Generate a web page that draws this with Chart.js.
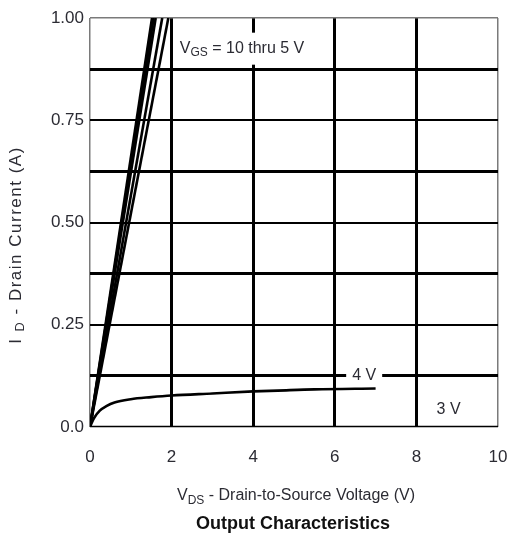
<!DOCTYPE html>
<html>
<head>
<meta charset="utf-8">
<script src="https://cdn.jsdelivr.net/npm/chart.js@4.4.0/dist/chart.umd.min.js"></script>
<style>
  html, body { margin: 0; padding: 0; background: #fff; }
  #wrap { width: 509px; height: 543px; }
</style>
</head>
<body>
<div id="wrap"><canvas id="chart" width="509" height="543"></canvas></div>
<script>
// Output characteristics: drain current vs drain-to-source voltage
const xTicks = [0, 2, 4, 6, 8, 10];
const yTickLabels = { 0: '0.0', 0.25: '0.25', 0.5: '0.50', 0.75: '0.75', 1: '1.00' };

// VGS = 10 thru 5 V, nearly linear region (VDS where ID reaches 1.0 A)
const vds10 = [0, 1.52];
const vds9 = [0, 1.56];
const vds8 = [0, 1.61];
const vds6 = [0, 1.77];
const vds5 = [0, 1.92];
const idHigh = [0, 1.0];

// VGS = 4 V
const vds4 = [0, 0.05, 0.1, 0.24, 0.4, 0.6, 1.0, 1.5, 2.0, 3.0, 4.0, 4.6, 5.5, 7.0];
const id4 = [0, 0.012, 0.022, 0.040, 0.051, 0.060, 0.068, 0.073, 0.077, 0.082, 0.087, 0.089, 0.092, 0.094];

// VGS = 3 V
const vds3 = [0, 10];
const id3 = [0, 0];

const FONT = '"Liberation Sans", Arial, sans-serif';
const TEXT = '#2b2b33';

function pts(xs, ys) {
    return xs.map((x, i) => ({ x: x, y: ys[i] }));
}

function curve(xs, ys) {
    return {
        data: pts(xs, ys),
        showLine: true,
        borderColor: '#000',
        borderWidth: 2.6,
        pointRadius: 0,
        cubicInterpolationMode: 'monotone',
        fill: false
    };
}

// Draws text runs where some parts are subscripts
function drawRich(ctx, parts, x, y, size, align) {
    ctx.save();
    ctx.textBaseline = 'middle';
    ctx.textAlign = 'left';
    let total = 0;
    parts.forEach(p => {
        ctx.font = (p.sub ? size * 0.75 : size) + 'px ' + FONT;
        total += ctx.measureText(p.t).width;
    });
    let cx = align === 'center' ? x - total / 2 : x;
    parts.forEach(p => {
        ctx.font = (p.sub ? size * 0.75 : size) + 'px ' + FONT;
        ctx.fillText(p.t, cx, p.sub ? y + size * 0.28 : y);
        cx += ctx.measureText(p.t).width;
    });
    ctx.restore();
    return total;
}

const labelPlugin = {
    id: 'curveLabels',
    afterDatasetsDraw(chart) {
        const ctx = chart.ctx;
        const xs = chart.scales.x;
        const ys = chart.scales.y;
        ctx.fillStyle = TEXT;

        const notes = [
            { parts: [{ t: 'V' }, { t: 'GS', sub: true }, { t: ' = 10 thru 5 V' }], x: 2.2, y: 0.925, boxX: 2.1, boxW: 138, boxH: 32 },
            { parts: [{ t: '4 V' }], x: 6.72, y: 0.125, center: true, boxW: 36, boxH: 16 },
            { parts: [{ t: '3 V' }], x: 8.79, y: 0.042, center: true }
        ];
        notes.forEach(n => {
            const px = xs.getPixelForValue(n.x);
            const py = ys.getPixelForValue(n.y);
            if (n.boxW) {
                ctx.save();
                ctx.fillStyle = '#fff';
                const bx = n.center ? px - n.boxW / 2 : xs.getPixelForValue(n.boxX);
                ctx.fillRect(bx, py - n.boxH / 2, n.boxW, n.boxH);
                ctx.restore();
            }
            ctx.fillStyle = TEXT;
            drawRich(ctx, n.parts, px, py, 16, n.center ? 'center' : 'left');
        });
    },
    afterDraw(chart) {
        const ctx = chart.ctx;
        ctx.fillStyle = TEXT;
        drawRich(ctx, [{ t: 'V' }, { t: 'DS', sub: true }, { t: ' - Drain-to-Source Voltage (V)' }], 296, 496, 16, 'center');

        ctx.save();
        ctx.font = 'bold 18px ' + FONT;
        ctx.fillStyle = '#111';
        ctx.textAlign = 'center';
        ctx.textBaseline = 'middle';
        ctx.fillText('Output Characteristics', 293, 524);
        ctx.restore();

        ctx.save();
        ctx.translate(16, 245);
        ctx.rotate(-Math.PI / 2);
        ctx.fillStyle = TEXT;
        ctx.letterSpacing = '1.5px';
        drawRich(ctx, [{ t: 'I ' }, { t: 'D', sub: true }, { t: ' - Drain Current (A)' }], 0, 0, 17, 'center');
        ctx.restore();
    }
};

new Chart(document.getElementById('chart'), {
    type: 'scatter',
    data: {
        datasets: [
            curve(vds10, idHigh),
            curve(vds9, idHigh),
            curve(vds8, idHigh),
            curve(vds6, idHigh),
            curve(vds5, idHigh),
            curve(vds4, id4),
            curve(vds3, id3)
        ]
    },
    options: {
        responsive: false,
        animation: false,
        layout: { padding: { left: 0, right: 0, top: 18, bottom: 0 } },
        plugins: {
            legend: { display: false },
            tooltip: { enabled: false }
        },
        scales: {
            x: {
                type: 'linear',
                min: 0,
                max: 10,
                afterFit: s => {
                    s.height = 116;
                    s.paddingLeft = 0;
                    s.paddingRight = 11;
                },
                afterBuildTicks: s => { s.ticks = xTicks.map(v => ({ value: v })); },
                border: { display: false },
                grid: {
                    drawTicks: false,
                    color: c => (c.tick.value === 0 || c.tick.value === 10) ? '#7a7a7a' : '#000',
                    lineWidth: c => (c.tick.value === 0 || c.tick.value === 10) ? 1.5 : 3
                },
                ticks: {
                    padding: 20,
                    color: TEXT,
                    font: { family: FONT, size: 17 },
                    maxRotation: 0
                }
            },
            y: {
                type: 'linear',
                min: 0,
                max: 1,
                afterFit: s => { s.width = 90; },
                border: { display: false },
                grid: {
                    drawTicks: false,
                    color: c => (c.tick.value === 0 || c.tick.value === 1) ? '#7a7a7a' : '#000',
                    lineWidth: c => {
                        const v = c.tick.value;
                        if (v === 0 || v === 1) return 1.5;
                        return (v * 4) % 1 === 0 ? 2 : 3;
                    }
                },
                ticks: {
                    stepSize: 0.125,
                    autoSkip: false,
                    padding: 6,
                    color: TEXT,
                    font: { family: FONT, size: 17 },
                    callback: v => (v in yTickLabels) ? yTickLabels[v] : ''
                }
            }
        }
    },
    plugins: [labelPlugin]
});
</script>
</body>
</html>
